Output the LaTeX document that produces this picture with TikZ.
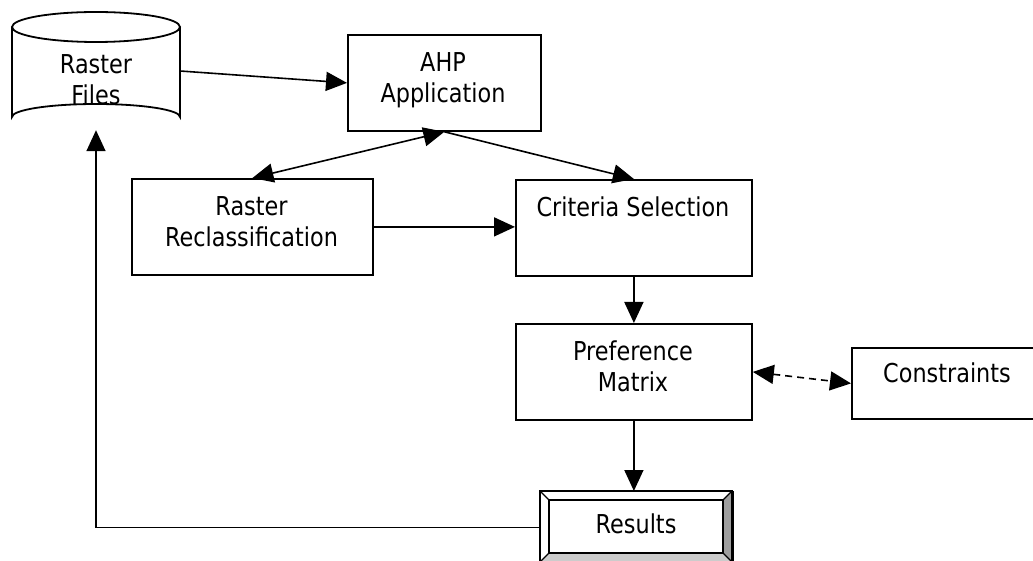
\documentclass[tikz,border=0pt]{standalone}
\usepackage{fontspec}
\setmainfont{DejaVu Sans}[FakeStretch=0.86]
\usetikzlibrary{arrows.meta}
\begin{document}
\begin{tikzpicture}[x=1bp,y=-1bp,
  box/.style={draw, line width=1.8bp, inner sep=0pt, anchor=north west},
  lbl/.style={font=\fontsize{26bp}{31bp}\selectfont, align=center, inner sep=0pt, anchor=base},
  arr/.style={line width=1.6bp, -{Triangle[length=21bp,width=19bp]}},
  darr/.style={line width=1.6bp, {Triangle[length=21bp,width=19bp]}-{Triangle[length=21bp,width=19bp]}},
  dsh/.style={dash pattern=on 7bp off 5bp}
]
\useasboundingbox (0,0) rectangle (1033,561);

% Raster Files cylinder
\node[inner sep=0pt, minimum width=168bp, minimum height=118bp] (rf) at (96,71) {};
\draw[line width=1.8bp, fill=white] (12,27) -- (12,117) arc[start angle=180, end angle=360, x radius=84, y radius=13] -- (180,27);
\draw[line width=1.8bp] (96,27) ellipse[x radius=84, y radius=15];
\node[lbl] (rft) at (96,105) {Raster\\Files};

% Boxes
\node[box, minimum width=193bp, minimum height=96bp] (ahp) at (347,34) {};
\node[lbl] (ahpt) at (443,103) {AHP\\Application};

\node[box, minimum width=241bp, minimum height=96bp] (rr) at (131,178) {};
\node[lbl] (rrt) at (251.5,247) {Raster\\Reclassification};

\node[box, minimum width=236bp, minimum height=96bp] (cs) at (515,179) {};
\node[lbl] (cst) at (633,217) {Criteria Selection};

\node[box, minimum width=236bp, minimum height=96bp] (pm) at (515,323) {};
\node[lbl] (pmt) at (633,391) {Preference\\Matrix};

\node[box, minimum width=192bp, minimum height=71bp] (con) at (851,347) {};
\node[lbl] (cont) at (947,383) {Constraints};

% Results (bevelled)
\node[box, minimum width=192bp, minimum height=71bp] (res) at (540,491) {};
\fill[white] (540,491) -- (732,491) -- (723,500) -- (549,500) -- (549,553) -- (540,562) -- cycle;
\fill[black!38] (732,491) -- (732,562) -- (723,553) -- (723,500) -- cycle;
\fill[black!20] (540,562) -- (732,562) -- (723,553) -- (549,553) -- cycle;
\draw[line width=1.8bp] (540,491) rectangle (732,562);
\draw[line width=1.8bp] (549,500) rectangle (723,553);
\draw[line width=1.2bp] (540,491) -- (549,500) (732,491) -- (723,500) (540,562) -- (549,553) (732,562) -- (723,553);
\node[lbl] (rest) at (636,533) {Results};

% Connectors
\draw[arr] (rf.east) -- (ahp.west);
\draw[darr] (rr.north) -- (ahp.south);
\draw[arr] (ahp.south) -- (cs.north);
\draw[arr] (rr.east) -- (rr.east -| cs.west);
\draw[arr] (cs.south) -- (pm.north);
\draw[darr, dsh] (pm.east) -- (con.west);
\draw[arr] (pm.south) -- (pm.south |- res.north);
\draw[arr] (res.west) -| (rf.south);
\end{tikzpicture}
\end{document}
